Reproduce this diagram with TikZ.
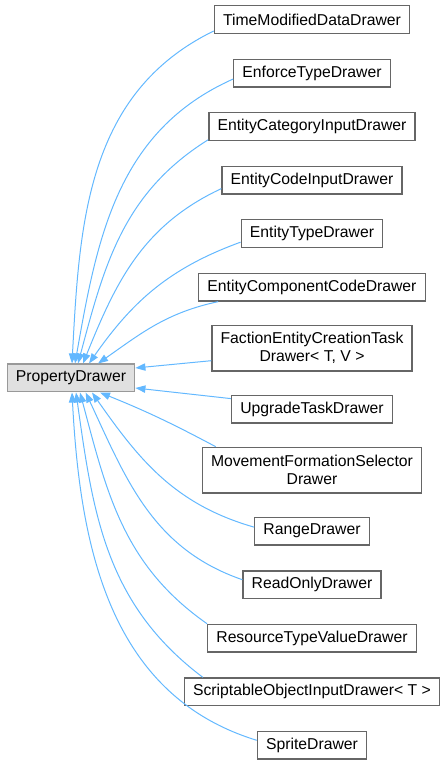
\documentclass[tikz,border=0pt]{standalone}
\usepackage{fontspec}
\setmainfont{Liberation Sans}
\usetikzlibrary{positioning,arrows.meta}
\definecolor{edgeblue}{HTML}{63B8FF}
\definecolor{boxgray}{HTML}{666666}
\definecolor{basegray}{HTML}{999999}
\definecolor{basefill}{HTML}{E0E0E0}

\begin{document}
\begin{tikzpicture}[x=0.75pt, y=0.75pt, node distance=18.4pt, font=\fontsize{11.8}{13.3}\selectfont,
    cls/.style={draw=boxgray, fill=white, line width=1pt, minimum height=20.75pt, inner xsep=6.5pt, inner ysep=2pt},
    twoline/.style={cls, align=center, minimum height=34.25pt},
    base/.style={cls, draw=basegray, fill=basefill},
    edge/.style={draw=edgeblue, line width=0.75pt, -{Triangle[length=7.5pt,width=5.5pt]}}]
        \useasboundingbox (0,0) rectangle (445,765);
        \node[base] (pd) at (71,387) {PropertyDrawer};
        \node[cls] (tmd) at (312,745.5) {TimeModifiedDataDrawer};
        \node[cls,below=of tmd] (enf) {EnforceTypeDrawer};
        \node[cls,below=of enf] (cat) {EntityCategoryInputDrawer};
        \node[cls,below=of cat] (code) {EntityCodeInputDrawer};
        \node[cls,below=of code] (type) {EntityTypeDrawer};
        \node[cls,below=of type] (comp) {EntityComponentCodeDrawer};
        \node[twoline,below=17.25pt of comp] (fac) {FactionEntityCreationTask\\Drawer< T, V >};
        \node[cls,below=17.25pt of fac] (upg) {UpgradeTaskDrawer};
        \node[twoline,below=17.25pt of upg] (mov) {MovementFormationSelector\\Drawer};
        \node[cls,below=17.25pt of mov] (range) {RangeDrawer};
        \node[cls,below=of range] (ro) {ReadOnlyDrawer};
        \node[cls,below=of ro] (res) {ResourceTypeValueDrawer};
        \node[cls,below=of res] (scr) {ScriptableObjectInputDrawer< T >};
        \node[cls,below=of scr] (spr) {SpriteDrawer};
        % children above the base class
        \draw[edge] ([yshift=-8.6pt]tmd.west) to[out=206,in=87] ([xshift=0.75pt]pd.north);
        \draw[edge] ([yshift=-4.5pt]enf.west) to[out=204,in=80] ([xshift=3pt]pd.north);
        \draw[edge] ([yshift=1pt]cat.south west) to[out=212,in=75] ([xshift=5.25pt]pd.north);
        \draw[edge] ([yshift=-6.4pt]code.west) to[out=205,in=68] ([xshift=9pt]pd.north);
        \draw[edge] ([yshift=-6.4pt]type.west) to[out=200,in=55] ([xshift=13.5pt]pd.north);
        \draw[edge] ([xshift=15pt]comp.south west) to[out=192,in=35] ([xshift=20.25pt]pd.north);
        \draw[edge] ([yshift=-9.4pt]fac.west) -- ([yshift=7.5pt]pd.east);
        \draw[edge] ([yshift=7.9pt]upg.west) -- ([yshift=-7.5pt]pd.east);
        % children below the base class
        \draw[edge] ([xshift=10.5pt]mov.north west) to[out=152,in=-22] ([xshift=21.75pt]pd.south);
        \draw[edge] ([yshift=3pt]range.west) to[out=164,in=-55] ([xshift=15.75pt]pd.south);
        \draw[edge] ([yshift=3.75pt]ro.west) to[out=161,in=-65] ([xshift=11pt]pd.south);
        \draw[edge] (res.north west) to[out=145,in=-75] ([xshift=6.75pt]pd.south);
        \draw[edge] ([xshift=14.25pt]scr.north west) to[out=143,in=-82] ([xshift=3.75pt]pd.south);
        \draw[edge] ([yshift=3.75pt]spr.west) to[out=163,in=-87] ([xshift=0.75pt]pd.south);
      \end{tikzpicture}
\end{document}
